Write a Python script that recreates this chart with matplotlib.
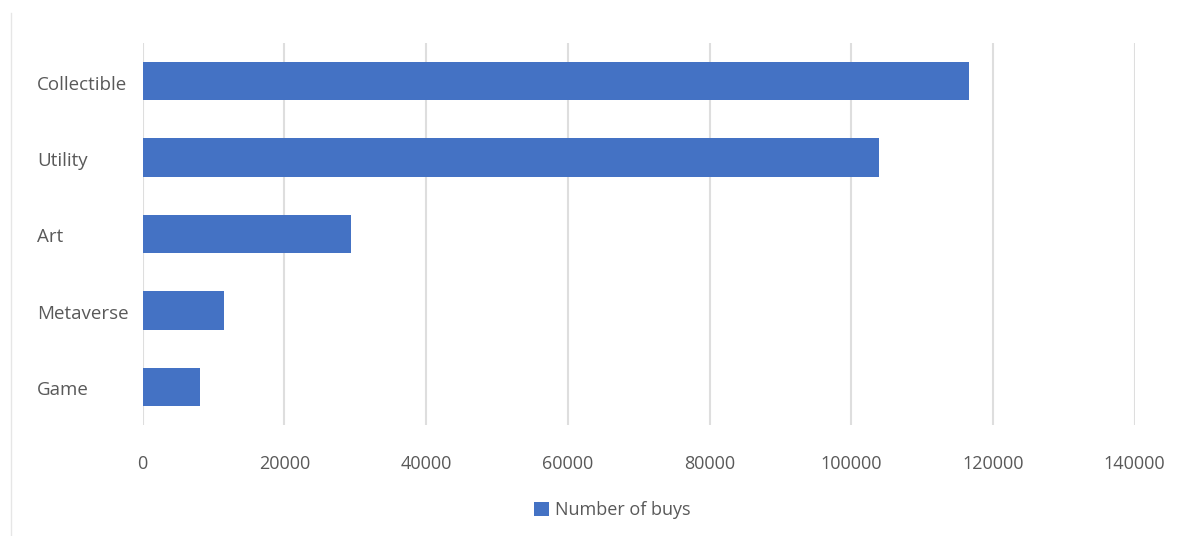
import matplotlib
matplotlib.use("Agg")
import matplotlib.pyplot as plt
import matplotlib.transforms as mtransforms
from matplotlib.lines import Line2D

categories = ["Collectible", "Utility", "Art", "Metaverse", "Game"]
values = [116600, 103900, 29400, 11500, 8100]
xticks = [0, 20000, 40000, 60000, 80000, 100000, 120000, 140000]
series_name = "Number of buys"

plt.rcParams['font.family'] = ['Open Sans', 'DejaVu Sans']
W, H = 1182, 536
fig = plt.figure(figsize=(W/100, H/100), dpi=100)
ax = fig.add_axes([142.7/W, 1-425/H, (1134.7-142.7)/W, (425-43)/H])

ypos = list(range(len(categories)))[::-1]
ax.barh(ypos, values, height=0.5, color="#4472C4", zorder=3, label=series_name)
ax.set_xlim(0, 140000)
ax.set_ylim(-0.5, len(categories)-0.5)
ax.set_xticks(xticks)
ax.set_xticklabels([str(t) for t in xticks], fontsize=13, color="#595959")
ax.set_yticks(ypos)
ax.set_yticklabels(categories, fontsize=13.5, color="#595959", ha="left", va="center")
ax.tick_params(axis="y", length=0, pad=(142.7-37)*72/100)
ax.tick_params(axis="x", length=0, pad=(455-425)*72/100)
ax.grid(axis="x", color="#dedede", linewidth=1.5, zorder=0)
for s in ax.spines.values():
    s.set_visible(False)

offset = mtransforms.ScaledTranslation(0, -3.5/100, fig.dpi_scale_trans)
for lbl in ax.get_yticklabels():
    lbl.set_transform(lbl.get_transform() + offset)

# left frame line of the chart area
fig.add_artist(Line2D([11/W, 11/W], [0, 1-13/H], transform=fig.transFigure,
                      color="#e6e6e6", linewidth=1))

leg = fig.legend(loc="center", bbox_to_anchor=(612/W, 1-510/H), frameon=False,
                 fontsize=13, handlelength=0.85, handleheight=0.85, handletextpad=0.3,
                 labelcolor="#595959")

fig.savefig("out.png", dpi=100, facecolor="white")
